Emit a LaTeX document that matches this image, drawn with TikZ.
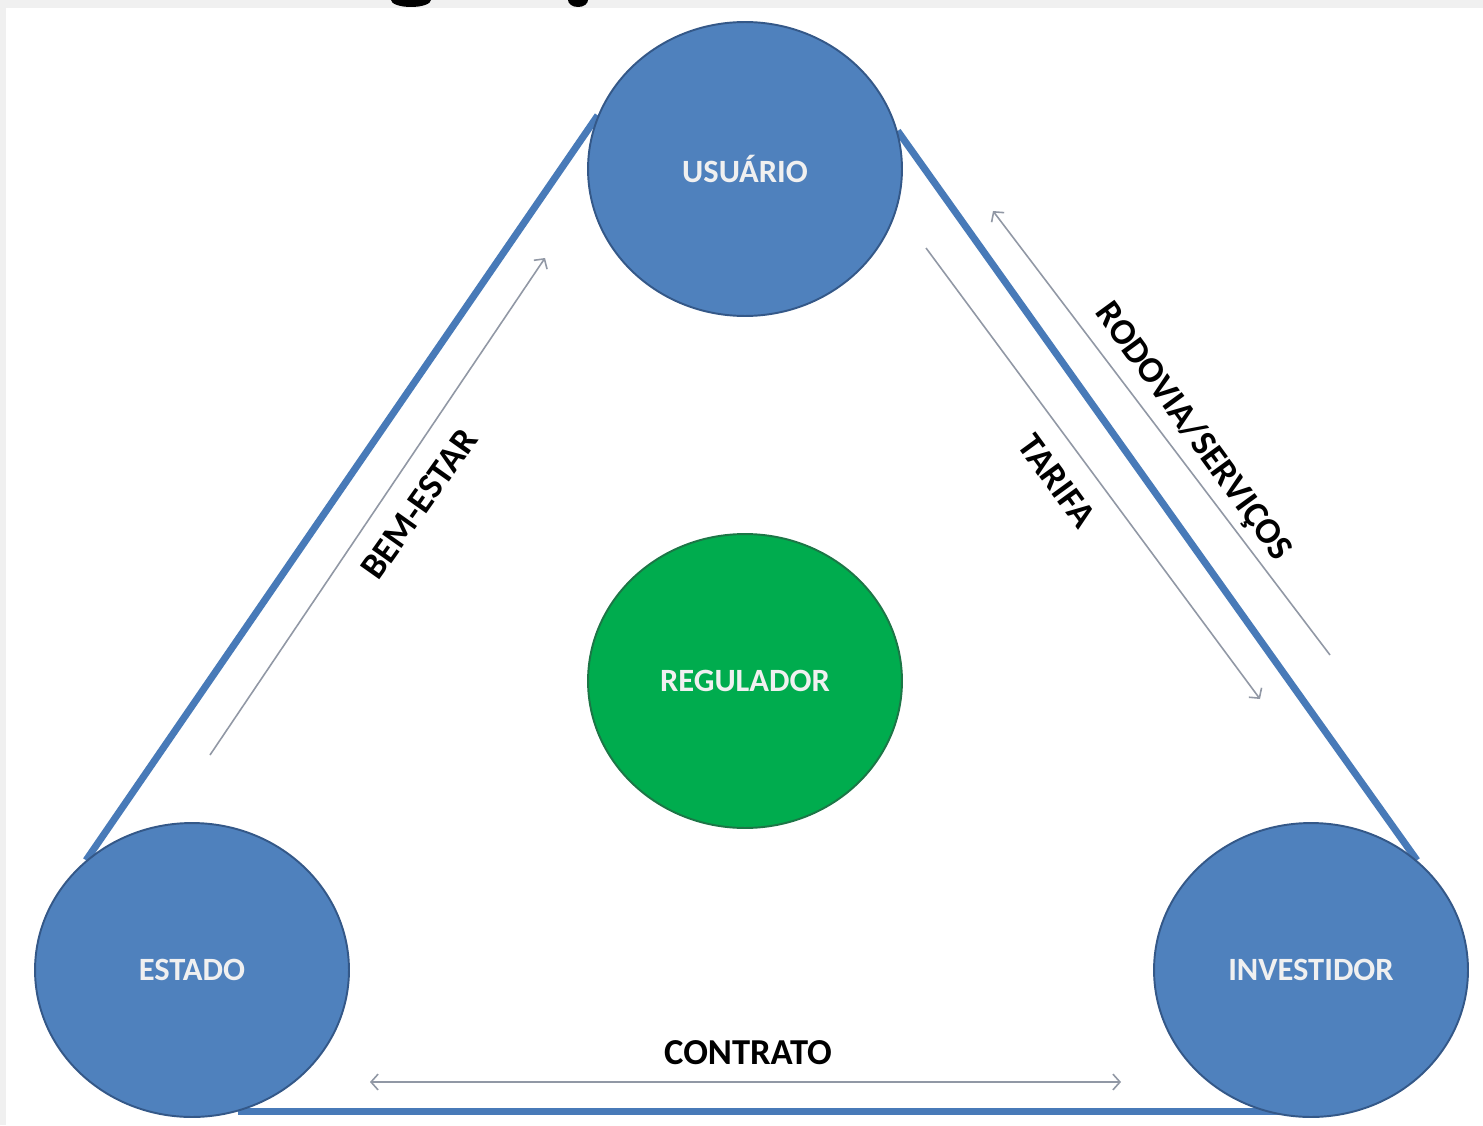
\documentclass[tikz,border=0pt]{standalone}
\usepackage{fontspec}
\setmainfont{Carlito}
\usetikzlibrary{shapes.geometric,arrows.meta}
\definecolor{nodeblue}{RGB}{79,129,189}
\definecolor{nodeedge}{RGB}{52,88,136}
\definecolor{regfill}{RGB}{0,172,78}
\definecolor{regedge}{RGB}{28,118,70}
\definecolor{edgeblue}{RGB}{72,122,184}
\definecolor{arrowgray}{RGB}{145,152,165}
\definecolor{labelwhite}{RGB}{240,240,240}
\definecolor{pagegray}{RGB}{240,240,240}
\pgfdeclarelayer{page}
\pgfdeclarelayer{bg}
\pgfsetlayers{page,bg,main}
\tikzset{
  actor/.style={ellipse, draw=nodeedge, line width=1.1pt, fill=nodeblue,
    minimum width=6.28cm, minimum height=5.88cm, inner sep=0pt,
    text=labelwhite, font=\fontsize{18.5}{20}\selectfont\bfseries},
  regbox/.style={actor, fill=regfill, draw=regedge},
  sideline/.style={edgeblue, line width=4pt},
  thinarrow/.style={arrowgray, line width=0.9pt},
  tipend/.style={-{Straight Barb[length=4pt,width=9pt]}},
  tipboth/.style={{Straight Barb[length=4pt,width=9pt]}-{Straight Barb[length=4pt,width=9pt]}},
  flowlabel/.style={text=black, inner sep=0pt, font=\fontsize{20.8}{22}\selectfont\bfseries}
}
\begin{document}
\begin{tikzpicture}[x=0.02cm,y=-0.02cm]
\useasboundingbox (0,0) rectangle (1483,1125);
\begin{pgfonlayer}{page}
\fill[pagegray] (0,0) rectangle (1483,1125);
% clipped fragments of a title above the picture
\fill[black] (411,0) ellipse [x radius=20, y radius=7];
\fill[black] (578,0) ellipse [x radius=10, y radius=7];
\fill[white] (6,8) rectangle (1483,1125);
\end{pgfonlayer}

\node[actor]  (usuario)    at (745,169) {USUÁRIO};
\node[regbox] (regulador)  at (745,681) {REGULADOR};
\node[actor]  (estado)     at (192,970) {ESTADO};
\node[actor]  (investidor) at (1311,970) {INVESTIDOR};

\coordinate (baseL) at (estado.-72);
\coordinate (baseR) at (baseL -| investidor.-100);

\begin{pgfonlayer}{bg}
\draw[sideline] (estado.134) -- (usuario.160);
\draw[sideline] (usuario.14) -- (investidor.46);
\draw[sideline] (baseL) -- (baseR);
\end{pgfonlayer}

\coordinate (be1) at (210,755);
\coordinate (be2) at (545,258);
\coordinate (ta1) at (926,248);
\coordinate (ta2) at (1260,699);
\coordinate (ro1) at (1330,655);
\coordinate (ro2) at (993,211);
\coordinate (co1) at (370,1082);
\coordinate (co2) at (1121,1082);

\draw[thinarrow,tipend] (be1) -- (be2);
\draw[thinarrow,tipend] (ta1) -- (ta2);
\draw[thinarrow,tipend] (ro1) -- (ro2);
\draw[thinarrow,tipboth] (co1) -- (co2);

\node[flowlabel, rotate=54.7]  (lbem) at (419,504) {BEM-ESTAR};
\node[flowlabel, rotate=-53.9] (ltar) at (1057,481) {TARIFA};
\node[flowlabel, rotate=-53.9] (lrod) at (1193,432) {RODOVIA/SERVIÇOS};
\node[flowlabel] (lcon) at (748,1053) {CONTRATO};
\end{tikzpicture}
\end{document}
